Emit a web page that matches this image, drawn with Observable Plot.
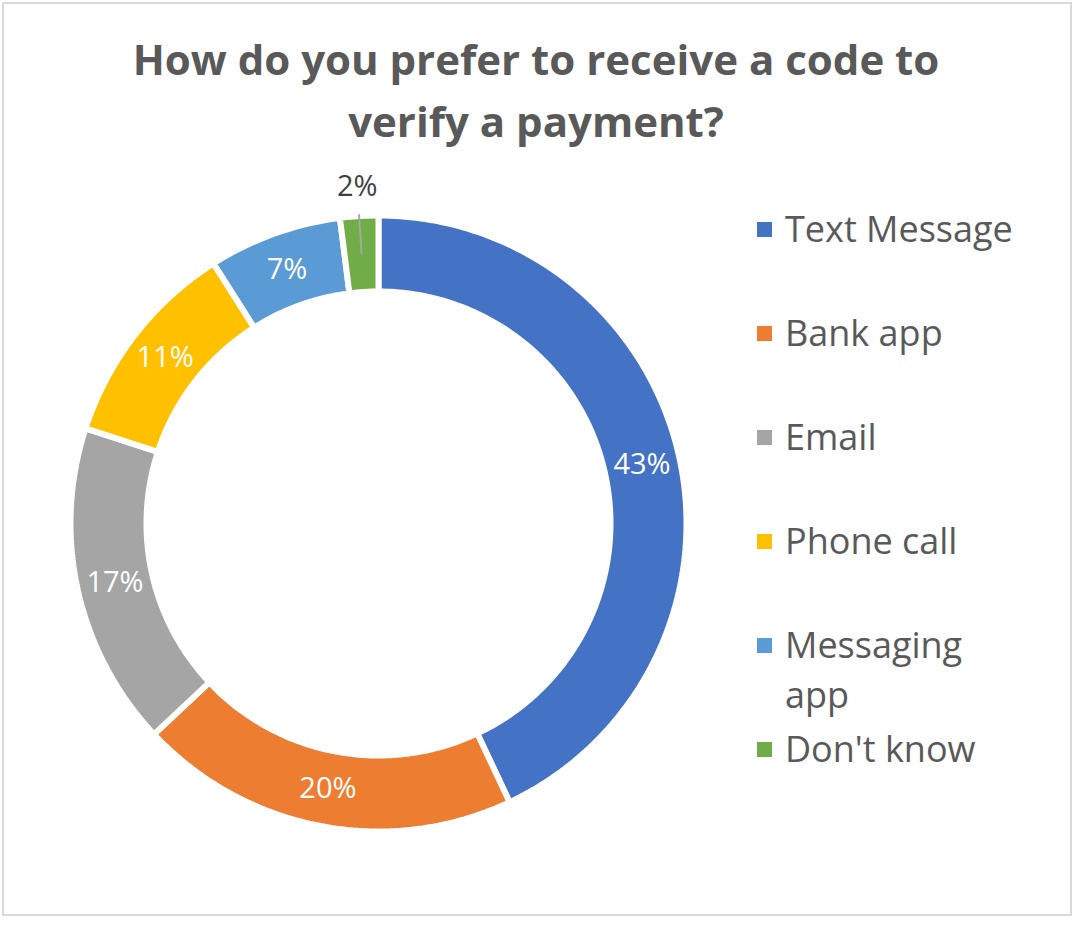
<!DOCTYPE html>
<html><head><meta charset="utf-8">
<script src="https://cdn.jsdelivr.net/npm/d3@7"></script>
<script src="https://cdn.jsdelivr.net/npm/@observablehq/plot@0.6"></script>
<style>
body{margin:0;background:#fff;font-family:"Open Sans",sans-serif;}
#wrap{position:relative;width:1081px;height:925px;overflow:hidden;background:#fff;}
#frame{position:absolute;left:2px;top:2px;width:1066px;height:910px;border:2px solid #d9d9d9;}
#title{position:absolute;left:0;width:1072px;top:28px;text-align:center;font-weight:700;font-size:42px;line-height:62px;color:#595959;margin:0;white-space:nowrap;}
#chart{position:absolute;left:0;top:140px;}
.leg{position:absolute;left:757px;color:#595959;font-size:36px;line-height:50px;}
.leg .sw{position:absolute;left:0;top:18px;width:15px;height:15px;}
.leg .tx{position:absolute;left:28px;top:0;width:240px;}
</style></head>
<body>
<div id="wrap">
  <div id="frame"></div>
  <div id="title">How do you prefer to receive a code to<br>verify a payment?</div>
  <div id="chart"></div>
  <div id="legend"></div>
</div>
<script>
const categories = ["Text Message", "Bank app", "Email", "Phone call", "Messaging app", "Don't know"];
const values = [43, 20, 17, 11, 7, 2];
const colors = ["#4472C4", "#ED7D31", "#A5A5A5", "#FFC000", "#5B9BD5", "#70AD47"];
const labelText = values.map(v => v + "%");

const total = d3.sum(values);
const R_OUT = 1, R_IN = 232 / 308, R_LAB = 270 / 308;
const pts = [];
const labs = [];
const leaders = [];
let acc = 0;
values.forEach((v, i) => {
  const a0 = acc / total * 2 * Math.PI;
  acc += v;
  const a1 = acc / total * 2 * Math.PI;
  const n = Math.max(2, Math.ceil((a1 - a0) / (Math.PI / 180)));
  const ring = [];
  for (let k = 0; k <= n; k++) { const a = a0 + (a1 - a0) * k / n; ring.push([R_OUT * Math.sin(a), R_OUT * Math.cos(a)]); }
  for (let k = n; k >= 0; k--) { const a = a0 + (a1 - a0) * k / n; ring.push([R_IN * Math.sin(a), R_IN * Math.cos(a)]); }
  ring.push(ring[0]);
  ring.forEach(([x, y]) => pts.push({cat: categories[i], x, y}));
  const am = (a0 + a1) / 2;
  const small = v / total < 0.04;
  const r = small ? 1.097 : R_LAB;
  labs.push({cat: categories[i], text: labelText[i], x: r * Math.sin(am), y: r * Math.cos(am), small});
  if (small) leaders.push({x1: R_LAB * Math.sin(am), y1: R_LAB * Math.cos(am), x2: 1.006 * Math.sin(am), y2: 1.006 * Math.cos(am)});
});

const chart = Plot.plot({
  width: 740, height: 785, margin: 0,
  style: {fontFamily: "'Open Sans', sans-serif", background: "transparent"},
  x: {domain: [-1, 1], range: [70, 686], axis: null},
  y: {domain: [-1, 1], range: [691, 75], axis: null},
  color: {domain: categories, range: colors},
  marks: [
    Plot.line(pts, {x: "x", y: "y", z: "cat", fill: "cat", stroke: "white", strokeWidth: 6, strokeLinejoin: "miter", strokeLinecap: "butt", curve: "linear"}),
    Plot.link(leaders, {x1: "x1", y1: "y1", x2: "x2", y2: "y2", stroke: "#a6a6a6", strokeWidth: 2}),
    Plot.text(labs, {x: "x", y: "y", text: "text", fill: d => d.small ? "#404040" : "white", fontSize: 29, textAnchor: "middle", lineAnchor: "middle"})
  ]
});
document.getElementById("chart").appendChild(chart);

const legend = document.getElementById("legend");
categories.forEach((c, i) => {
  const el = document.createElement("div");
  el.className = "leg";
  el.style.top = (229 - 25 + 104 * i) + "px";
  el.innerHTML = `<div class="sw" style="background:${colors[i]}"></div><div class="tx">${c}</div>`;
  legend.appendChild(el);
});
</script>
</body></html>
